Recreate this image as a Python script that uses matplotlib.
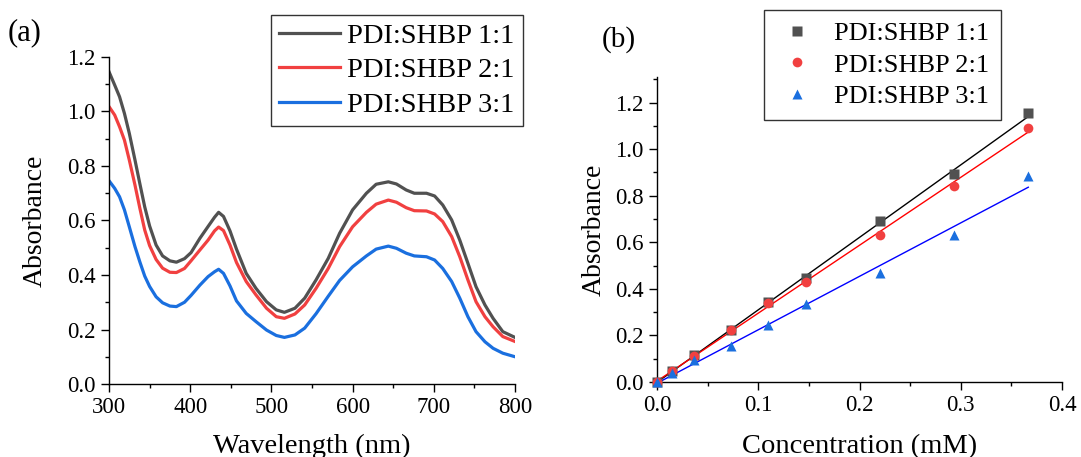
import numpy as np
import matplotlib
matplotlib.use("Agg")
import matplotlib.pyplot as plt
from matplotlib.ticker import MultipleLocator

plt.rcParams['font.family'] = ['Liberation Serif', 'DejaVu Serif']

# (a) absorption spectra
wl = [300, 307, 313, 319, 325, 332, 338, 344, 350, 358, 366, 375, 383, 393, 401,
      412, 422, 430, 435, 441, 449, 457, 469, 481, 494, 506, 516, 529, 541, 555,
      570, 584, 600, 617, 629, 644, 654, 666, 676, 691, 701, 711, 722, 732, 742,
      752, 763, 773, 785, 800]
abs_11 = [1.146, 1.097, 1.054, 0.993, 0.920, 0.822, 0.735, 0.650, 0.580, 0.510,
          0.470, 0.452, 0.447, 0.460, 0.482, 0.535, 0.578, 0.612, 0.630, 0.615,
          0.562, 0.495, 0.406, 0.351, 0.302, 0.272, 0.263, 0.278, 0.315, 0.382,
          0.461, 0.553, 0.639, 0.700, 0.733, 0.742, 0.734, 0.712, 0.700, 0.700,
          0.690, 0.657, 0.602, 0.528, 0.443, 0.357, 0.290, 0.241, 0.192, 0.171]
abs_21 = [1.018, 0.987, 0.944, 0.895, 0.822, 0.730, 0.645, 0.565, 0.508, 0.457,
          0.425, 0.410, 0.409, 0.424, 0.452, 0.492, 0.528, 0.562, 0.576, 0.563,
          0.510, 0.446, 0.376, 0.327, 0.278, 0.247, 0.241, 0.257, 0.290, 0.351,
          0.424, 0.504, 0.577, 0.630, 0.660, 0.675, 0.667, 0.647, 0.636, 0.635,
          0.624, 0.596, 0.541, 0.467, 0.382, 0.302, 0.247, 0.210, 0.174, 0.156]
abs_31 = [0.746, 0.718, 0.687, 0.639, 0.577, 0.504, 0.448, 0.396, 0.358, 0.320,
          0.298, 0.286, 0.284, 0.300, 0.325, 0.363, 0.394, 0.412, 0.421, 0.406,
          0.360, 0.305, 0.259, 0.229, 0.198, 0.178, 0.171, 0.180, 0.205, 0.258,
          0.322, 0.380, 0.430, 0.470, 0.495, 0.506, 0.498, 0.480, 0.470, 0.467,
          0.455, 0.424, 0.376, 0.315, 0.247, 0.192, 0.155, 0.131, 0.113, 0.100]

# (b) calibration points
conc = [0, 0.0147, 0.0367, 0.0733, 0.11, 0.1467, 0.22, 0.2933, 0.3667]
cal_11 = [0, 0.046, 0.116, 0.225, 0.343, 0.447, 0.691, 0.892, 1.154]
cal_21 = [0, 0.046, 0.113, 0.222, 0.340, 0.429, 0.631, 0.842, 1.092]
cal_31 = [0, 0.037, 0.093, 0.156, 0.244, 0.335, 0.467, 0.631, 0.885]

labels = ["PDI:SHBP 1:1", "PDI:SHBP 2:1", "PDI:SHBP 3:1"]
colors = ['#515151', '#F14040', '#1A6FDF']
fitcolors = ['#000000', '#FF0000', '#0000FF']
markers = ['s', 'o', '^']

W, H = 1081, 457
fig = plt.figure(figsize=(W/100, H/100), dpi=100)

def style(ax):
  for s in ['top', 'right']:
    ax.spines[s].set_visible(False)
  for s in ['left', 'bottom']:
    ax.spines[s].set_linewidth(1.0)
  ax.tick_params(which='major', direction='out', length=6, width=1.0, labelsize=16.5)
  ax.tick_params(which='minor', direction='out', length=3, width=1.0)

# panel a
ax1 = fig.add_axes([109/W, 1-384/H, 406/W, 327/H])
for y, c, l in zip([abs_11, abs_21, abs_31], colors, labels):
  ax1.plot(wl, y, color=c, lw=2.3, label=l, solid_joinstyle='round')
ax1.set_xlim(300, 800)
ax1.set_ylim(0, 1.2)
ax1.xaxis.set_major_locator(MultipleLocator(100))
ax1.xaxis.set_minor_locator(MultipleLocator(50))
ax1.yaxis.set_major_locator(MultipleLocator(0.2))
ax1.yaxis.set_minor_locator(MultipleLocator(0.1))
ax1.yaxis.set_major_formatter(plt.FormatStrFormatter('%.1f'))
style(ax1)
ax1.set_xlabel("Wavelength (nm)", fontsize=20.5)
ax1.set_ylabel("Absorbance", fontsize=20)
ax1.xaxis.set_label_coords(0.5, -0.152)
ax1.yaxis.set_label_coords(-0.15, 0.5)
leg1 = ax1.legend(loc='upper left', bbox_to_anchor=(271/W, 1-15/H),
                  bbox_transform=fig.transFigure, fontsize=20.5, frameon=True,
                  fancybox=False, edgecolor='black', borderpad=0.28,
                  handlelength=2.15, handletextpad=0.25, labelspacing=0.3,
                  borderaxespad=0)
leg1.get_frame().set_linewidth(1.0)
fig.text(8/W, 1-33/H, "(a)", fontsize=22, va='center', ha='left')

# panel b
ax2 = fig.add_axes([657/W, 1-382/H, 405/W, 305/H])
for y, c, fc, m, l in zip([cal_11, cal_21, cal_31], colors, fitcolors, markers, labels):
  ax2.plot(conc, y, ls='none', marker=m, ms=7, color=c, mec='none', label=l,
           clip_on=False, zorder=3)
  k, b = np.polyfit(conc, y, 1)
  xx = np.array([conc[0], conc[-1]])
  ax2.plot(xx, k*xx + b, color=fc, lw=1.0, zorder=2)
ax2.set_xlim(0, 0.4)
ax2.set_ylim(0, 1.31)
ax2.xaxis.set_major_locator(MultipleLocator(0.1))
ax2.xaxis.set_minor_locator(MultipleLocator(0.05))
ax2.yaxis.set_major_locator(MultipleLocator(0.2))
ax2.yaxis.set_minor_locator(MultipleLocator(0.1))
ax2.xaxis.set_major_formatter(plt.FormatStrFormatter('%.1f'))
ax2.yaxis.set_major_formatter(plt.FormatStrFormatter('%.1f'))
style(ax2)
ax2.set_xlabel("Concentration (mM)", fontsize=20.5)
ax2.set_ylabel("Absorbance", fontsize=20)
ax2.xaxis.set_label_coords(0.5, -0.17)
ax2.yaxis.set_label_coords(-0.123, 0.5)
leg2 = ax2.legend(loc='upper left', bbox_to_anchor=(764/W, 1-10/H),
                  bbox_transform=fig.transFigure, fontsize=19, frameon=True,
                  fancybox=False, edgecolor='black', borderpad=0.45,
                  handlelength=1.6, handletextpad=0.6, labelspacing=0.3,
                  borderaxespad=0)
leg2.get_frame().set_linewidth(1.0)
fig.text(602/W, 1-40/H, "(b)", fontsize=21, va='center', ha='left')

fig.savefig("out.png", dpi=100)
